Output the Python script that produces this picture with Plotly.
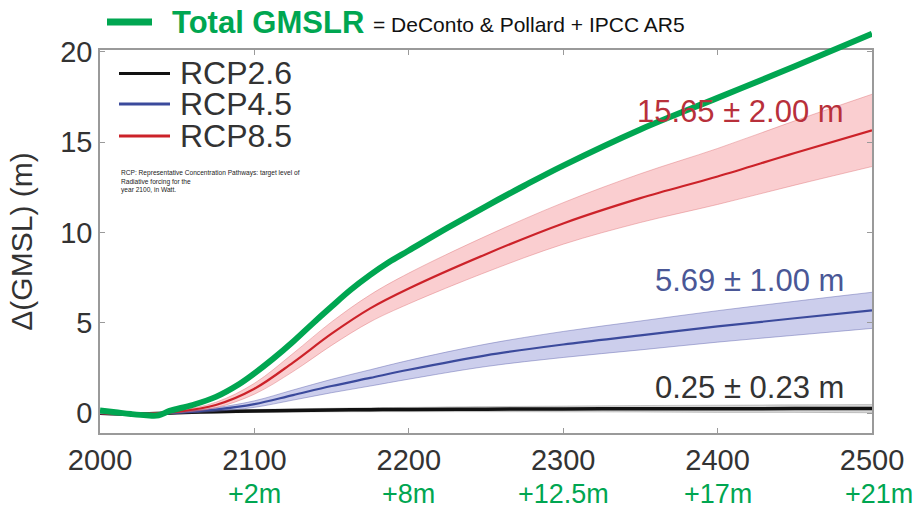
import plotly.graph_objects as go

# ---------------- data ----------------
years = [2000, 2025, 2050, 2075, 2100, 2125, 2150, 2175, 2200, 2250, 2300, 2350, 2400, 2450, 2500]
rcp26 = [0.0, -0.05, 0.02, 0.08, 0.12, 0.15, 0.17, 0.19, 0.20, 0.22, 0.23, 0.24, 0.24, 0.25, 0.25]
rcp26_unc = [0.02, 0.03, 0.05, 0.07, 0.08, 0.09, 0.10, 0.11, 0.12, 0.14, 0.16, 0.18, 0.20, 0.21, 0.23]
rcp45 = [0.0, -0.05, 0.03, 0.2, 0.5, 1.0, 1.5, 1.95, 2.4, 3.2, 3.8, 4.3, 4.8, 5.25, 5.69]
rcp45_unc = [0.02, 0.03, 0.05, 0.10, 0.18, 0.28, 0.37, 0.45, 0.52, 0.62, 0.72, 0.80, 0.87, 0.94, 1.00]
rcp85 = [0.0, -0.05, 0.08, 0.45, 1.35, 2.8, 4.4, 5.8, 6.9, 8.8, 10.5, 11.9, 13.1, 14.4, 15.65]
rcp85_unc = [0.02, 0.03, 0.06, 0.15, 0.30, 0.50, 0.65, 0.75, 0.85, 1.00, 1.15, 1.35, 1.55, 1.78, 2.00]

total_years = [2000, 2010, 2020, 2030, 2038, 2045, 2060, 2075, 2090, 2100, 2112, 2125, 2137, 2150,
               2162, 2175, 2187, 2200, 2225, 2250, 2275, 2300, 2350, 2400, 2450, 2500]
total_gmslr = [0.15, 0.05, -0.05, -0.12, -0.12, 0.12, 0.45, 0.9, 1.6, 2.2, 3.0, 3.95, 4.9, 5.9,
               6.8, 7.65, 8.35, 9.0, 10.25, 11.45, 12.6, 13.7, 15.7, 17.45, 19.2, 21.0]

x_ticks = [2000, 2100, 2200, 2300, 2400, 2500]
y_ticks = [0, 5, 10, 15, 20]
total_label_years = [2100, 2200, 2300, 2400, 2500]
total_labels = ["+2m", "+8m", "+12.5m", "+17m", "+21m"]
scenario_names = ["RCP2.6", "RCP4.5", "RCP8.5"]
end_labels = ["0.25 ± 0.23 m", "5.69 ± 1.00 m", "15.65 ± 2.00 m"]

# ---------------- layout geometry ----------------
W, H = 921, 508
L, R, T, B = 100, 49, 30, 75
PW, PH = W - L - R, H - T - B
FRAME_TOP = 50
Y0, Y1 = -1.1, 20.1
dom_top = (H - B - FRAME_TOP) / PH

def pxx(x):
    return (x - L) / PW

def pxy(y):
    return (H - B - y) / PH

FONT = "Liberation Sans, Arial, Helvetica, sans-serif"
GREEN = "#00A651"
GREY = "#9a9a9a"
TXT = "#333333"

styles = {
    "RCP2.6": dict(line="#111111", fill="rgba(120,120,120,0.30)", edge="rgba(90,90,90,0.35)", text="#333333"),
    "RCP4.5": dict(line="#3B4A9C", fill="rgba(120,125,205,0.38)", edge="rgba(90,95,170,0.55)", text="#4A5796"),
    "RCP8.5": dict(line="#CC2229", fill="rgba(240,120,125,0.36)", edge="rgba(220,110,115,0.55)", text="#B8303B"),
}
widths = {"RCP2.6": 3.5, "RCP4.5": 2.2, "RCP8.5": 2.2}

fig = go.Figure()

series = [(scenario_names[0], rcp26, rcp26_unc),
          (scenario_names[1], rcp45, rcp45_unc),
          (scenario_names[2], rcp85, rcp85_unc)]

for name, vals, unc in series:
    st = styles[name]
    lower = [v - u for v, u in zip(vals, unc)]
    upper = [v + u for v, u in zip(vals, unc)]
    fig.add_trace(go.Scatter(x=years, y=lower, mode="lines", line=dict(color=st["edge"], width=0.8, shape="spline"),
                             showlegend=False, hoverinfo="skip"))
    fig.add_trace(go.Scatter(x=years, y=upper, mode="lines", line=dict(color=st["edge"], width=0.8, shape="spline"),
                             fill="tonexty", fillcolor=st["fill"], showlegend=False, hoverinfo="skip"))
    fig.add_trace(go.Scatter(x=years, y=vals, mode="lines", name=name,
                             line=dict(color=st["line"], width=widths[name], shape="spline"), showlegend=False))

# total GMSLR on an overlaid taller axis so it may rise above the frame
fig.add_trace(go.Scatter(x=total_years, y=total_gmslr, mode="lines", name="Total GMSLR",
                         line=dict(color=GREEN, width=6, shape="spline", smoothing=1.0),
                         xaxis="x", yaxis="y2", showlegend=False))

axis_common = dict(showline=True, linecolor=GREY, linewidth=1.5, mirror="ticks", ticks="inside",
                   ticklen=5, tickwidth=1.2, tickcolor=GREY, showgrid=False, zeroline=False,
                   automargin=False, tickfont=dict(family=FONT, size=29, color=TXT))

fig.update_layout(
    width=W, height=H,
    margin=dict(l=L, r=R, t=T, b=B, autoexpand=False),
    paper_bgcolor="white", plot_bgcolor="rgba(0,0,0,0)",
    showlegend=False,
    xaxis=dict(range=[2000, 2500], tickvals=x_ticks, anchor="y", **axis_common),
    yaxis=dict(range=[Y0, Y1], tickvals=y_ticks, domain=[0, dom_top], anchor="x",
               title=dict(text="Δ(GMSL) (m)", font=dict(family=FONT, size=30, color=TXT), standoff=19),
               **axis_common),
    yaxis2=dict(range=[Y0, Y0 + (Y1 - Y0) / dom_top], domain=[0, 1], anchor="x", visible=False,
                automargin=False),
)

ann = []
# manual legend
leg_rows = [73.5, 104, 136]
for name, yy in zip(scenario_names, leg_rows):
    fig.add_shape(type="line", xref="paper", yref="paper", x0=pxx(119), x1=pxx(170), y0=pxy(yy), y1=pxy(yy),
                  line=dict(color=styles[name]["line"], width=3))
    ann.append(dict(x=pxx(178), y=pxy(yy), xref="paper", yref="paper", xanchor="left", yanchor="middle",
                    text=name, showarrow=False, font=dict(family=FONT, size=32, color=TXT)))

# small note
ann.append(dict(x=pxx(119), y=pxy(167), xref="paper", yref="paper", xanchor="left", yanchor="top", align="left",
                text="RCP: Representative Concentration Pathways: target level of<br>Radiative forcing for the<br>year 2100, in Watt.",
                showarrow=False, font=dict(family=FONT, size=6.6, color="#222222")))

# end labels
for name, txt, yy in zip(scenario_names, end_labels, [387, 280, 111]):
    ann.append(dict(x=pxx(846), y=pxy(yy), xref="paper", yref="paper", xanchor="right", yanchor="middle",
                    text=txt, showarrow=False, font=dict(family=FONT, size=31, color=styles[name]["text"])))

# title
fig.add_shape(type="line", xref="paper", yref="paper", x0=pxx(107), x1=pxx(152), y0=pxy(22), y1=pxy(22),
              line=dict(color=GREEN, width=7))
ann.append(dict(x=pxx(170), y=pxy(22), xref="paper", yref="paper", xanchor="left", yanchor="middle",
                text="<b>Total GMSLR</b>", showarrow=False, font=dict(family=FONT, size=31, color=GREEN)))
ann.append(dict(x=pxx(371), y=pxy(25), xref="paper", yref="paper", xanchor="left", yanchor="middle",
                text="= DeConto & Pollard + IPCC AR5", showarrow=False, font=dict(family=FONT, size=21, color="#111111")))

# totals under axis
for yr, txt in zip(total_label_years, total_labels):
    ann.append(dict(x=yr, y=pxy(494), xref="x", yref="paper", xanchor="center", yanchor="middle",
                    xshift=7 if yr == total_label_years[-1] else 0,
                    text=txt, showarrow=False, font=dict(family=FONT, size=27, color=GREEN)))

fig.update_layout(annotations=ann)
fig.write_html("out.html", config={"displayModeBar": False},
               post_script="document.body.style.margin='0px';document.body.style.padding='0px';")
